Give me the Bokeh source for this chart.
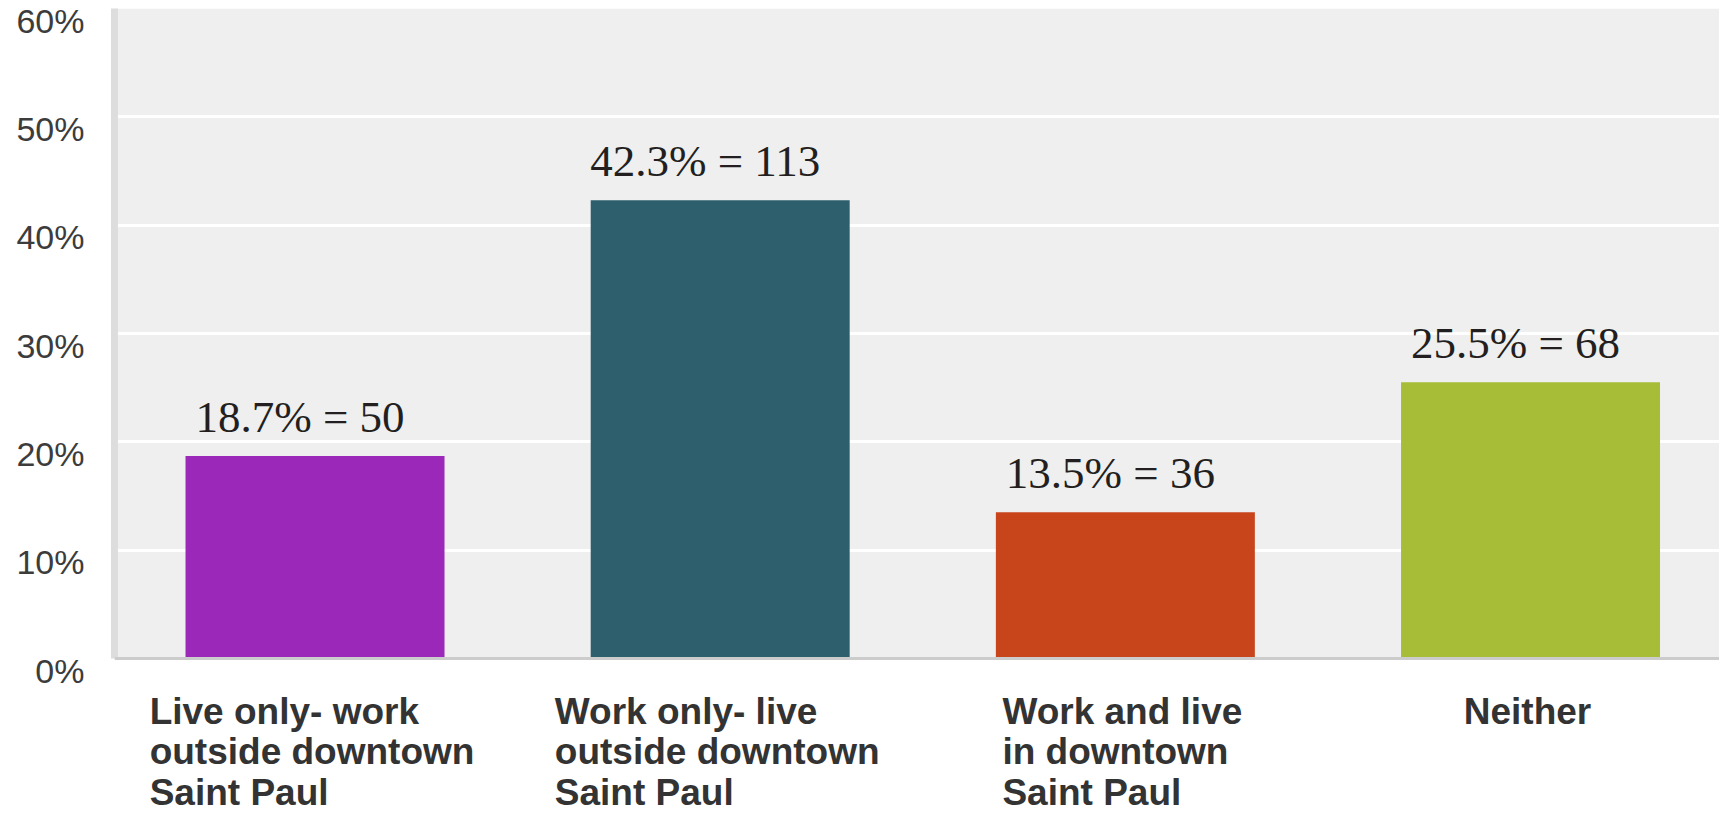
from bokeh.plotting import figure
from bokeh.models import Range1d, FixedTicker, ColumnDataSource, LinearAxis, BoxAnnotation, Grid, Span
from bokeh.embed import file_html
from bokeh.resources import INLINE
from bokeh.core.properties import value

# ---- data ----
categories = [
    "Live only- work\noutside downtown\nSaint Paul",
    "Work only- live\noutside downtown\nSaint Paul",
    "Work and live\nin downtown\nSaint Paul",
    "Neither",
]
percents = [18.7, 42.3, 13.5, 25.5]
counts = [50, 113, 36, 68]
bar_colors = ["#9b28b9", "#2e5f6d", "#c8451c", "#a8bd37"]
y_ticks = [0, 10, 20, 30, 40, 50, 60]
y_tick_labels = ["0%", "10%", "20%", "30%", "40%", "50%", "60%"]

idx = list(range(len(categories)))
labels = [f"{p}% = {c}" for p, c in zip(percents, counts)]
src = ColumnDataSource(dict(x=idx, top=percents, color=bar_colors, label=labels))
cat_src = ColumnDataSource(dict(x=idx, y=[0] * len(idx), text=categories))

# ---- layout geometry ----
W, H = 1719, 817
FRAME_LEFT = 114
FRAME_TOP = 8
PLOT_H = 650            # pixel height of the 0..60 area
YMAX = 60
FRAME_H = H - FRAME_TOP
y_bottom = -(FRAME_H - PLOT_H) / PLOT_H * YMAX
px_per_unit = PLOT_H / YMAX
lab_shift = 12 / px_per_unit   # tick labels sit slightly below their gridlines

p = figure(
    width=W, height=H,
    x_range=Range1d(-0.4949, 3.4664),
    y_range=Range1d(y_bottom, YMAX),
    output_backend="svg", toolbar_location=None,
    x_axis_location=None,
    min_border_left=FRAME_LEFT, min_border_right=0,
    min_border_top=FRAME_TOP, min_border_bottom=0,
    background_fill_color="white", border_fill_color="white",
    outline_line_color=None,
)
p.xgrid.visible = False
p.ygrid.visible = False

# grey plot area
p.add_layout(BoxAnnotation(bottom=0, top=YMAX, fill_color="#efefef", fill_alpha=1,
                           line_color=None, level="underlay"))
# white gridlines
p.add_layout(Grid(dimension=1, ticker=FixedTicker(ticks=y_ticks),
                  grid_line_color="white", grid_line_width=3, level="underlay"))

# left strip (main y axis, no labels)
strip = p.yaxis[0]
strip.ticker = FixedTicker(ticks=[])
strip.bounds = (0, YMAX)
strip.axis_line_color = "#dddddd"
strip.axis_line_width = 7
strip.major_tick_line_color = None
strip.minor_tick_line_color = None
strip.major_tick_out = 0
strip.major_tick_in = 0
strip.minor_tick_out = 0
strip.major_label_standoff = 0

# tick label axis (shifted range so labels sit a bit below gridlines)
p.extra_y_ranges = {"lab": Range1d(y_bottom + lab_shift, YMAX + lab_shift)}
lab_axis = LinearAxis(
    y_range_name="lab",
    ticker=FixedTicker(ticks=y_ticks),
    major_label_overrides=dict(zip(y_ticks, y_tick_labels)),
    axis_line_color=None,
    major_tick_line_color=None, minor_tick_line_color=None,
    major_tick_out=0, major_tick_in=0, minor_tick_out=0,
    major_label_standoff=30,
    major_label_text_font="Liberation Sans",
    major_label_text_font_size="34px",
    major_label_text_color="#3c3c3c",
)
p.add_layout(lab_axis, "left")

# bars
p.vbar(x="x", top="top", bottom=0, width=0.6392, fill_color="color",
       line_color=None, source=src)

# baseline
p.add_layout(Span(location=0, dimension="width", line_color="#cccccc", line_width=3))

# value labels
p.text(x="x", y="top", text="label", source=src,
       text_font=value("Liberation Serif"), text_font_size="45px",
       text_color="#231f20", text_align="center", text_baseline="alphabetic",
       x_offset=-15, y_offset=-39)

# category labels (block centred under each bar, lines left-aligned)
p.text(x="x", y="y", text="text", source=cat_src,
       anchor="top_center", text_align="left",
       text_font=value("Liberation Sans"), text_font_style="bold",
       text_font_size="37px", text_color="#333333", text_line_height=0.99,
       x_offset=-3, y_offset=32)

open("out.html", "w").write(file_html(p, INLINE))
